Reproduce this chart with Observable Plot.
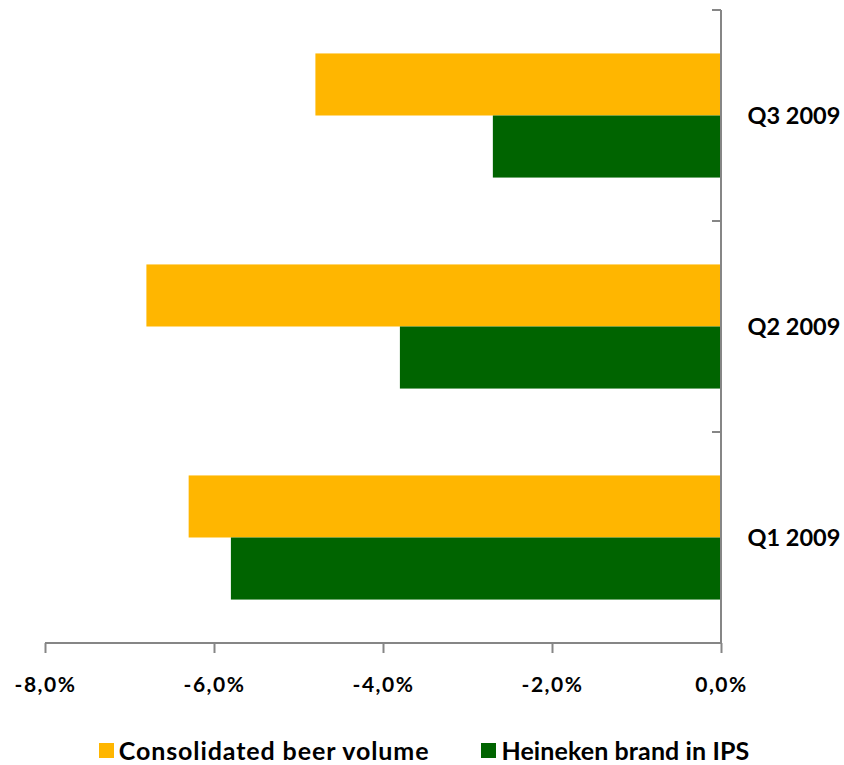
<!DOCTYPE html>
<html>
<head>
<meta charset="utf-8">
<script src="https://cdn.jsdelivr.net/npm/d3@7"></script>
<script src="https://cdn.jsdelivr.net/npm/@observablehq/plot@0.6"></script>
<style>
  body { margin: 0; background: #fff; font-family: Lato, "Open Sans", sans-serif; }
  #legend { display: flex; justify-content: center; gap: 52px; font-weight: bold; font-size: 25px; color: #000; margin-top: 13px; padding-left: 4px; }
  #legend .item { display: flex; align-items: center; gap: 5px; }
  #legend .item:first-child { letter-spacing: 0.9px; }
  #legend .item:last-child { letter-spacing: 0.1px; }
  #legend .sw { width: 15px; height: 15px; display: inline-block; }
  svg g[aria-label="x-axis tick label"] text { letter-spacing: 1.5px; }
</style>
</head>
<body>
<div id="chart"></div>
<script>
const quarters = ["Q3 2009", "Q2 2009", "Q1 2009"];
const seriesNames = ["Consolidated beer volume", "Heineken brand in IPS"];
const consolidated = [-4.8, -6.8, -6.3];
const heineken = [-2.7, -3.8, -5.8];
const xTicks = [-8, -6, -4, -2, 0];
const xTickLabels = ["-8,0%", "-6,0%", "-4,0%", "-2,0%", "0,0%"];
const colors = ["#FFB600", "#006400"];

const data = quarters.flatMap((q, i) => [
  {quarter: q, series: seriesNames[0], value: consolidated[i]},
  {quarter: q, series: seriesNames[1], value: heineken[i]}
]);

const axisColor = "#868686";

// Axis frame (vertical line at 0 with category-boundary ticks, and bottom line).
// The function mark is repeated in every facet; draw it only once (first facet, untranslated).
let axisDrawn = false;
const axisLines = (index, scales, values, dimensions) => {
  if (axisDrawn) return null;
  axisDrawn = true;
  const {x, fy} = scales;
  const {height, marginTop, marginBottom} = dimensions;
  let bounds;
  if (fy && fy.bandwidth) {
    bounds = quarters.map(q => fy(q));
    bounds.push(fy(quarters[quarters.length - 1]) + fy.bandwidth());
  } else {
    const h = (height - marginTop - marginBottom) / quarters.length;
    bounds = d3.range(quarters.length + 1).map(i => marginTop + i * h);
  }
  const top = bounds[0], bottom = bounds[bounds.length - 1];
  const g = d3.create("svg:g").attr("stroke", axisColor).attr("stroke-width", 2).attr("fill", "none");
  g.append("line").attr("x1", x(0)).attr("x2", x(0)).attr("y1", top).attr("y2", bottom);
  g.append("line").attr("x1", x(xTicks[0])).attr("x2", x(0)).attr("y1", bottom).attr("y2", bottom);
  bounds.slice(0, -1).forEach(b => {
    g.append("line").attr("x1", x(0) - 9).attr("x2", x(0)).attr("y1", b).attr("y2", b);
  });
  return g.node();
};

const chart = Plot.plot({
  width: 844,
  height: 722,
  marginTop: 10,
  marginBottom: 79,
  marginLeft: 45,
  marginRight: 123,
  style: {fontFamily: "Lato, 'Open Sans', sans-serif", fontSize: "21px", fontWeight: "bold", color: "#000", background: "#fff"},
  x: {domain: [-8, 0], round: false},
  y: {domain: seriesNames, paddingInner: 0, paddingOuter: 0.7, axis: null, round: false},
  fy: {domain: quarters, padding: 0, round: false},
  color: {domain: seriesNames, range: colors},
  marks: [
    Plot.barX(data, {x: "value", y: "series", fy: "quarter", fill: "series"}),
    axisLines,
    Plot.axisX({ticks: xTicks, tickSize: 10, tickPadding: 24, stroke: axisColor, strokeWidth: 2, fill: "#000",
      fontSize: 21, tickFormat: d => xTickLabels[xTicks.indexOf(d)], label: null}),
    Plot.axisFy({anchor: "right", tickSize: 0, tickPadding: 26, textAnchor: "start", fill: "#000", fontSize: 23.5, label: null})
  ]
});
document.getElementById("chart").appendChild(chart);

const legend = document.createElement("div");
legend.id = "legend";
seriesNames.forEach((s, i) => {
  const item = document.createElement("span");
  item.className = "item";
  const sw = document.createElement("span");
  sw.className = "sw";
  sw.style.background = colors[i];
  item.appendChild(sw);
  item.appendChild(document.createTextNode(s));
  legend.appendChild(item);
});
document.body.appendChild(legend);
</script>
</body>
</html>
